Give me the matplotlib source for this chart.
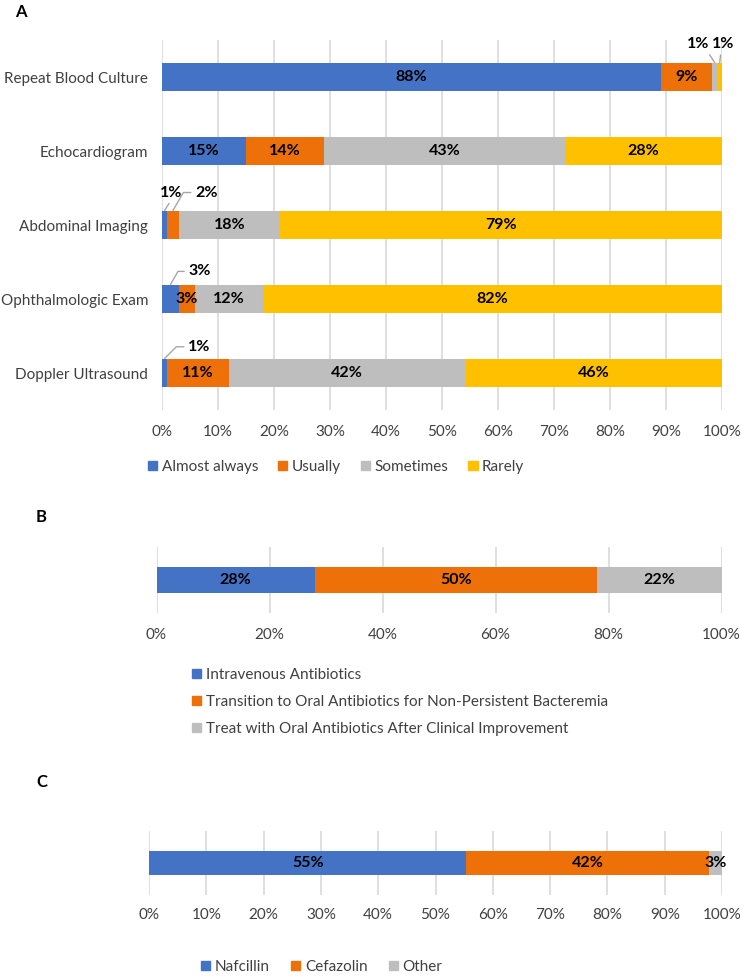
import matplotlib
matplotlib.use("Agg")
from matplotlib import pyplot as plt
from matplotlib.patches import Patch
import numpy as np

plt.rcParams['font.family'] = ['Lato', 'DejaVu Sans']

# Panel A data
a_items = ["Repeat Blood Culture", "Echocardiogram", "Abdominal Imaging",
           "Ophthalmologic Exam", "Doppler Ultrasound"]
a_series = ["Almost always", "Usually", "Sometimes", "Rarely"]
almost_always = [89.1, 15.0, 0.9, 3.0, 0.9]
usually = [9.1, 13.9, 2.1, 2.9, 11.1]
sometimes = [1.0, 43.1, 18.1, 12.2, 42.1]
rarely = [0.8, 28.0, 78.9, 81.9, 45.9]
a_labels = [["88%", "9%", "1%", "1%"],
            ["15%", "14%", "43%", "28%"],
            ["1%", "2%", "18%", "79%"],
            ["3%", "3%", "12%", "82%"],
            ["1%", "11%", "42%", "46%"]]

# Panel B data
b_series = ["Intravenous Antibiotics",
            "Transition to Oral Antibiotics for Non-Persistent Bacteremia",
            "Treat with Oral Antibiotics After Clinical Improvement"]
b_values = [28.0, 50.0, 22.0]
b_labels = ["28%", "50%", "22%"]

# Panel C data
c_series = ["Nafcillin", "Cefazolin", "Other"]
c_values = [55.4, 42.3, 2.3]
c_labels = ["55%", "42%", "3%"]

colors = ["#4472C4", "#ED7008", "#BEBEBE", "#FFC000"]
grid_col = "#D9D9D9"
lead_col = "#A6A6A6"
txt_col = "#404040"
W, H = 742, 977
LBL = 11.5  # bold data label size


def ax_rect(x0, x1, y0, y1):
    # pixel box -> figure fraction
    return [x0 / W, 1 - y1 / H, (x1 - x0) / W, (y1 - y0) / H]


def style_axis(ax, step, pad):
    ax.set_xlim(0, 100)
    ax.set_xticks(np.arange(0, 101, step))
    ax.set_xticklabels(["%d%%" % t for t in np.arange(0, 101, step)])
    ax.xaxis.grid(True, color=grid_col, linewidth=1.2)
    ax.set_axisbelow(True)
    for s in ax.spines.values():
        s.set_visible(False)
    ax.tick_params(axis='x', length=0, pad=pad, labelsize=11, colors=txt_col)
    ax.tick_params(axis='y', length=0, labelsize=11, colors=txt_col)


fig = plt.figure(figsize=(W / 100, H / 100), dpi=100)

# ---------------- A ----------------
axA = fig.add_axes(ax_rect(162, 722, 40, 410))
a_vals = np.array([almost_always, usually, sometimes, rarely])
ypos = np.arange(len(a_items))
left = np.zeros(len(a_items))
bars_a = []
for k in range(len(a_series)):
    axA.barh(ypos, a_vals[k], left=left, height=0.39, color=colors[k],
             label=a_series[k])
    bars_a.append((left.copy(), a_vals[k]))
    left = left + a_vals[k]
axA.set_ylim(len(a_items) - 0.5, -0.5)
axA.set_yticks(ypos)
axA.set_yticklabels(a_items)
style_axis(axA, 10, 10.5)
axA.tick_params(axis='y', pad=10)

# small segments labelled outside with leader lines: (row, series, dx, dy, connection, relpos)
outside = [
    (0, 2, -12, 13.5, "arc3", (0.9, 0.0)),
    (0, 3, 2.5, 13.5, "arc3", (0.4, 0.0)),
    (2, 0, 5, 13, "arc3", (0.5, 0.0)),
    (2, 1, 24, 13, "angle,angleA=0,angleB=60,rad=0", (0.0, 0.5)),
    (3, 0, 21, 9.5, "angle,angleA=0,angleB=60,rad=0", (0.0, 0.5)),
    (4, 0, 25, 8.5, "angle,angleA=0,angleB=45,rad=0", (0.0, 0.5)),
]
out_set = {(r, s) for r, s, *_ in outside}
for i in range(len(a_items)):
    for k in range(len(a_series)):
        l0, v = bars_a[k][0][i], bars_a[k][1][i]
        if (i, k) in out_set:
            continue
        axA.text(l0 + v / 2, i, a_labels[i][k], ha='center', va='center',
                 fontsize=LBL, fontweight='bold', color='black')
for r, s, dx, dy, conn, rp in outside:
    l0, v = bars_a[s][0][r], bars_a[s][1][r]
    axA.annotate(a_labels[r][s], xy=(l0 + v / 2, r - 0.195), xytext=(dx, dy),
                 textcoords='offset points', ha='center', va='center',
                 fontsize=LBL, fontweight='bold', color='black',
                 arrowprops=dict(arrowstyle='-', color=lead_col, lw=1,
                                 shrinkA=1, shrinkB=0, connectionstyle=conn,
                                 relpos=rp))

handles = [Patch(color=colors[k], label=a_series[k]) for k in range(4)]
fig.legend(handles=handles, loc='center left', bbox_to_anchor=(148 / W, 1 - 467 / H),
           ncol=4, frameon=False, fontsize=11, handlelength=0.6, handleheight=0.6,
           handletextpad=0.3, columnspacing=1.3, borderpad=0, borderaxespad=0,
           labelcolor=txt_col)

fig.text(15 / W, 1 - 12 / H, "A", fontsize=12, fontweight='bold', va='center')

# ---------------- B ----------------
axB = fig.add_axes(ax_rect(156.5, 721.5, 547, 613))
left = 0.0
for k, v in enumerate(b_values):
    axB.barh([0], [v], left=left, height=0.38, color=colors[k])
    axB.text(left + v / 2, 0, b_labels[k], ha='center', va='center',
             fontsize=LBL, fontweight='bold', color='black')
    left += v
axB.set_ylim(-0.5, 0.5)
axB.set_yticks([])
style_axis(axB, 20, 10.5)
handles = [Patch(color=colors[k], label=b_series[k]) for k in range(3)]
fig.legend(handles=handles, loc='center left', bbox_to_anchor=(192 / W, 1 - 702 / H),
           ncol=1, frameon=False, fontsize=11, handlelength=0.6, handleheight=0.6,
           handletextpad=0.3, labelspacing=0.85, borderpad=0, borderaxespad=0,
           labelcolor=txt_col)
fig.text(36 / W, 1 - 517 / H, "B", fontsize=12, fontweight='bold', va='center')

# ---------------- C ----------------
axC = fig.add_axes(ax_rect(149, 722, 831, 895))
left = 0.0
for k, v in enumerate(c_values):
    axC.barh([0], [v], left=left, height=0.39, color=colors[k])
    axC.text(left + v / 2, 0, c_labels[k], ha='center', va='center',
             fontsize=LBL, fontweight='bold', color='black')
    left += v
axC.set_ylim(-0.5, 0.5)
axC.set_yticks([])
style_axis(axC, 10, 9.5)
handles = [Patch(color=colors[k], label=c_series[k]) for k in range(3)]
fig.legend(handles=handles, loc='center left', bbox_to_anchor=(201 / W, 1 - 967 / H),
           ncol=3, frameon=False, fontsize=11, handlelength=0.6, handleheight=0.6,
           handletextpad=0.3, columnspacing=1.4, borderpad=0, borderaxespad=0,
           labelcolor=txt_col)
fig.text(36 / W, 1 - 782 / H, "C", fontsize=12, fontweight='bold', va='center')

fig.savefig("out.png", dpi=100)
